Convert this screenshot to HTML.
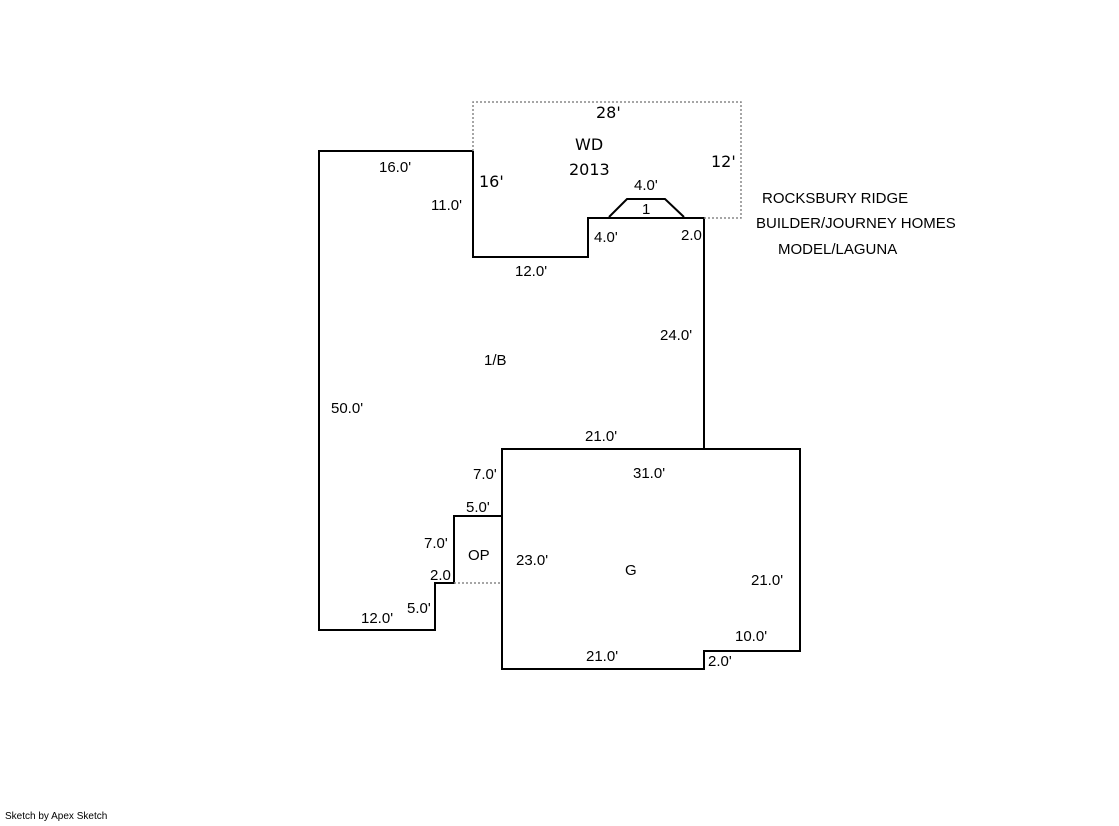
<!DOCTYPE html>
<html><head><style>
body{margin:0;background:#fff;}
svg text{font-family:"Liberation Sans",Arial,sans-serif;font-size:15px;fill:#000;}
svg text.v{font-family:"DejaVu Sans",Verdana,sans-serif;font-size:16px;}
</style></head><body>
<svg width="1119" height="821" xmlns="http://www.w3.org/2000/svg">
<g fill="none" stroke="#000" stroke-width="2">
<polyline points="473,151 319,151 319,630 435,630 435,583 454,583 454,516 502,516"/>
<polyline points="473,151 473,257 588,257 588,218 704,218 704,449"/>
<polygon points="502,449 800,449 800,651 704,651 704,669 502,669"/>
<polyline points="609,217 627,199 665,199 684,217"/>
</g>
<g fill="none" stroke="#888" stroke-width="1.5" stroke-dasharray="2,2">
<polyline points="473,151 473,102 741,102 741,218 704,218"/>
<line x1="454" y1="583" x2="502" y2="583"/>
</g>
<text class="v" x="596" y="118">28'</text>
<text class="v" x="575" y="150">WD</text>
<text class="v" x="569" y="175">2013</text>
<text class="v" x="711" y="167">12'</text>
<text class="v" x="479" y="187">16'</text>
<text x="379" y="172">16.0'</text>
<text x="431" y="210">11.0'</text>
<text x="634" y="190">4.0'</text>
<text x="642" y="214">1</text>
<text x="594" y="242">4.0'</text>
<text x="681" y="240">2.0</text>
<text x="515" y="276">12.0'</text>
<text x="660" y="340">24.0'</text>
<text x="484" y="365">1/B</text>
<text x="331" y="413">50.0'</text>
<text x="585" y="441">21.0'</text>
<text x="473" y="479">7.0'</text>
<text x="633" y="478">31.0'</text>
<text x="466" y="512">5.0'</text>
<text x="424" y="548">7.0'</text>
<text x="468" y="560">OP</text>
<text x="516" y="565">23.0'</text>
<text x="625" y="575">G</text>
<text x="430" y="580">2.0</text>
<text x="751" y="585">21.0'</text>
<text x="407" y="613">5.0'</text>
<text x="361" y="623">12.0'</text>
<text x="735" y="641">10.0'</text>
<text x="586" y="661">21.0'</text>
<text x="708" y="666">2.0'</text>
<text x="762" y="203">ROCKSBURY RIDGE</text>
<text x="756" y="228">BUILDER/JOURNEY HOMES</text>
<text x="778" y="254">MODEL/LAGUNA</text>
<text x="5" y="819" style="font-size:10px">Sketch by Apex Sketch</text>
</svg>
</body></html>
